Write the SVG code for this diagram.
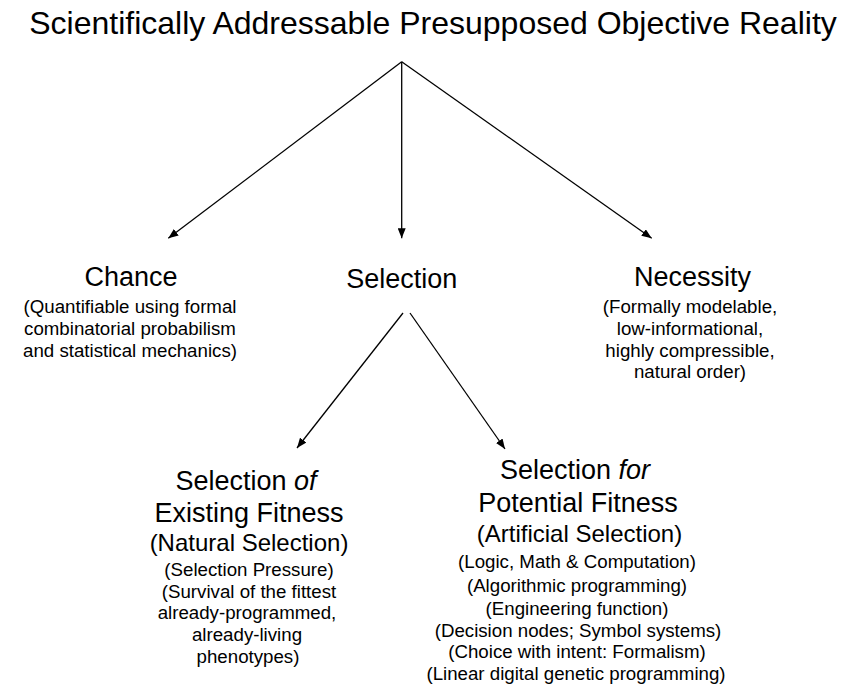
<svg xmlns="http://www.w3.org/2000/svg" width="843" height="685" viewBox="0 0 843 685">
  <style>
    text { font-family: "Liberation Sans", Arial, sans-serif; fill: #000; text-anchor: middle; }
    .title { font-size: 32px; }
    .head { font-size: 27px; }
    .mid { font-size: 24px; }
    .sub { font-size: 18.7px; }
    .conn line { stroke: #000; stroke-width: 1.3; fill: none; marker-end: url(#arrow); }
  </style>
  <defs>
    <!-- solid triangular arrowhead shared by every connector -->
    <marker id="arrow" viewBox="0 0 10 8" refX="10" refY="4" markerWidth="10" markerHeight="8" markerUnits="userSpaceOnUse" orient="auto">
      <path d="M0,0 L10,4 L0,8 Z" fill="#000"/>
    </marker>
  </defs>

  <rect width="843" height="685" fill="#fff"/>

  <!-- connectors -->
  <g id="connectors" class="conn">
    <line x1="401.7" y1="61.7" x2="168.3" y2="238.3"/>
    <line x1="401.7" y1="61.7" x2="401.7" y2="238.3"/>
    <line x1="401.7" y1="61.7" x2="651.7" y2="238.3"/>
    <line x1="403" y1="313" x2="297" y2="448"/>
    <line x1="410" y1="313" x2="505" y2="449"/>
  </g>

  <g id="reality">
    <text class="title" x="433" y="34">Scientifically Addressable Presupposed Objective Reality</text>
  </g>

  <g id="chance">
    <text class="head" x="131" y="286">Chance</text>
    <text class="sub" x="130" y="313">(Quantifiable using formal</text>
    <text class="sub" x="130" y="335">combinatorial probabilism</text>
    <text class="sub" x="130" y="357">and statistical mechanics)</text>
  </g>

  <g id="selection">
    <text class="head" x="401.7" y="287.5">Selection</text>
  </g>

  <g id="necessity">
    <text class="head" x="692.5" y="286">Necessity</text>
    <text class="sub" x="690" y="313">(Formally modelable,</text>
    <text class="sub" x="690" y="335">low-informational,</text>
    <text class="sub" x="690" y="356.5">highly compressible,</text>
    <text class="sub" x="690" y="378">natural order)</text>
  </g>

  <g id="selection-of">
    <text class="head" x="246" y="490">Selection <tspan font-style="italic">of</tspan></text>
    <text class="head" x="249" y="521.5">Existing Fitness</text>
    <text class="mid" x="249" y="550.5">(Natural Selection)</text>
    <text class="sub" x="249" y="576">(Selection Pressure)</text>
    <text class="sub" x="249" y="597.5">(Survival of the fittest</text>
    <text class="sub" x="247" y="619.3">already-programmed,</text>
    <text class="sub" x="247" y="641">already-living</text>
    <text class="sub" x="248" y="662.7">phenotypes)</text>
  </g>

  <g id="selection-for">
    <text class="head" x="575" y="479">Selection <tspan font-style="italic">for</tspan></text>
    <text class="head" x="578" y="511.5">Potential Fitness</text>
    <text class="mid" x="579.5" y="541.5">(Artificial Selection)</text>
    <text class="sub" x="577" y="568.3">(Logic, Math &amp; Computation)</text>
    <text class="sub" x="577" y="591.7">(Algorithmic programming)</text>
    <text class="sub" x="577" y="614.5">(Engineering function)</text>
    <text class="sub" x="578" y="636.7">(Decision nodes; Symbol systems)</text>
    <text class="sub" x="577" y="658.3">(Choice with intent: Formalism)</text>
    <text class="sub" x="576" y="680">(Linear digital genetic programming)</text>
  </g>
</svg>
